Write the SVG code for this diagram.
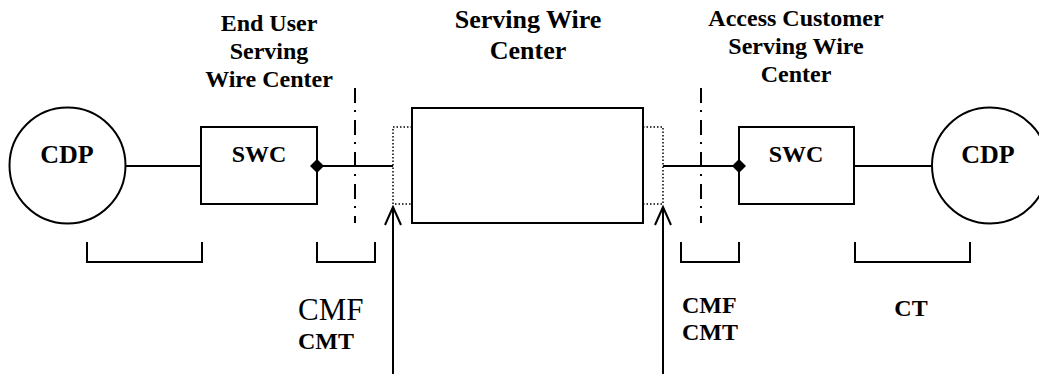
<svg xmlns="http://www.w3.org/2000/svg" width="1039" height="374" viewBox="0 0 1039 374">
<style>
.s{fill:none;stroke:#000;stroke-width:2}
.t{font-family:"Liberation Serif","Times New Roman",serif;font-weight:bold;font-size:24px;fill:#000}
.c{text-anchor:middle}
.dd{fill:none;stroke:#000;stroke-width:2;stroke-dasharray:15 7 2 8}
.dot{fill:none;stroke:#000;stroke-width:1.5;stroke-dasharray:1.5 2}
.ln{fill:none;stroke:#000;stroke-width:2}
.ah{fill:none;stroke:#000;stroke-width:2}
</style>
<rect width="1039" height="374" fill="#fff"/>
<g id="headers">
<text class="t c" x="269" y="31">End User</text>
<text class="t c" x="269" y="59">Serving</text>
<text class="t c" x="269" y="87">Wire Center</text>
<text class="t c" x="528" y="28" style="font-size:26px">Serving Wire</text>
<text class="t c" x="528" y="59" style="font-size:26px">Center</text>
<text class="t c" x="796" y="26">Access Customer</text>
<text class="t c" x="796" y="54">Serving Wire</text>
<text class="t c" x="796" y="82">Center</text>
</g>
<g id="connectors">
<line class="ln" x1="126" y1="166" x2="201" y2="166"/>
<line class="ln" x1="317" y1="166" x2="393" y2="166"/>
<line class="ln" x1="663" y1="166" x2="739" y2="166"/>
<line class="ln" x1="854" y1="166" x2="932" y2="166"/>
<path d="M310,166 L317,159 L324,166 L317,173 Z" fill="#000"/>
<path d="M732,166 L739,159 L746,166 L739,173 Z" fill="#000"/>
<line class="dd" x1="355" y1="88" x2="355" y2="223"/>
<line class="dd" x1="701" y1="88" x2="701" y2="223"/>
<line class="ln" x1="393" y1="374" x2="393" y2="207"/>
<path class="ah" d="M385,225 L393,207 L401,225"/>
<line class="ln" x1="663" y1="374" x2="663" y2="207"/>
<path class="ah" d="M655,225 L663,207 L671,225"/>
<path class="ln" d="M87,242 V262 H202 V242"/>
<path class="ln" d="M317,242 V262 H375 V242"/>
<path class="ln" d="M681,242 V262 H739 V242"/>
<path class="ln" d="M855,242 V262 H970 V242"/>
</g>
<g id="cdp-left">
<circle class="s" cx="67.5" cy="165.5" r="58"/>
<text class="t c" x="67" y="163" style="font-size:26px">CDP</text>
</g>
<g id="swc-left">
<rect class="s" x="201" y="127" width="116" height="77"/>
<text class="t c" x="259" y="162">SWC</text>
</g>
<g id="dotted-left">
<path class="dot" d="M412,127 H393 V204 H412"/>
</g>
<g id="serving-wire-center">
<rect class="s" x="412" y="108" width="231" height="115"/>
</g>
<g id="dotted-right">
<path class="dot" d="M643,127 H663 V204 H643"/>
</g>
<g id="swc-right">
<rect class="s" x="739" y="127" width="115" height="77"/>
<text class="t c" x="796" y="162">SWC</text>
</g>
<g id="cdp-right">
<circle class="s" cx="990" cy="165.5" r="58"/>
<text class="t c" x="988" y="163" style="font-size:26px">CDP</text>
</g>
<g id="labels">
<text x="298" y="320" style="font-family:'Liberation Serif','Times New Roman',serif;font-size:31px;fill:#000">CMF</text>
<text class="t" x="298" y="349">CMT</text>
<text class="t" x="682" y="313">CMF</text>
<text class="t" x="682" y="340">CMT</text>
<text class="t c" x="911" y="316">CT</text>
</g>
</svg>
